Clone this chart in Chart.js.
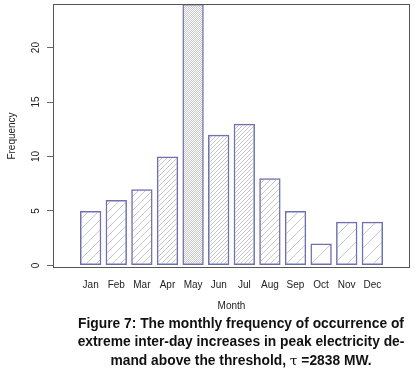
<!DOCTYPE html>
<html>
<head>
<meta charset="utf-8">
<script src="https://cdn.jsdelivr.net/npm/chart.js@4/dist/chart.umd.min.js"></script>
<style>
html,body{margin:0;padding:0;background:#fff;}
#wrap{position:relative;width:416px;height:371px;}
#c{position:absolute;left:0;top:0;}
#cap{position:absolute;left:66px;width:350px;top:315px;text-align:center;
 font-family:"Liberation Sans",Arial,sans-serif;font-weight:bold;font-size:13.8px;line-height:18px;color:#111;}
</style>
</head>
<body>
<div id="wrap">
<canvas id="c" width="416" height="371"></canvas>
<div id="cap">Figure 7: The monthly frequency of occurrence of<br>extreme inter-day increases in peak electricity de-<br>mand above the threshold, <span style="font-family:'DejaVu Serif',serif;font-weight:normal;">τ</span> =2838 MW.</div>
</div>
<script>
const months = ["Jan","Feb","Mar","Apr","May","Jun","Jul","Aug","Sep","Oct","Nov","Dec"];
const frequency = [5, 6, 7, 10, 24, 12, 13, 8, 5, 2, 4, 4];
const yTicks = [0, 5, 10, 15, 20];

function hatch(v) {
  const s = Math.max(2, Math.round(50 / v));
  const c = document.createElement('canvas');
  c.width = s; c.height = s;
  const g = c.getContext('2d');
  g.strokeStyle = 'rgba(140,140,140,0.6)';
  g.lineWidth = 0.8;
  g.beginPath();
  g.moveTo(-1, s + 1); g.lineTo(s + 1, -1);
  g.moveTo(-1, 1); g.lineTo(1, -1);
  g.moveTo(s - 1, s + 1); g.lineTo(s + 1, s - 1);
  g.stroke();
  return document.getElementById('c').getContext('2d').createPattern(c, 'repeat');
}

const framePlugin = {
  id: 'frame',
  afterDraw(chart) {
    const a = chart.chartArea, ctx = chart.ctx;
    ctx.save();
    ctx.strokeStyle = '#555';
    ctx.lineWidth = 1;
    ctx.strokeRect(a.left + 0.5, a.top + 0.5, a.right - a.left - 1, a.bottom - a.top - 1);
    ctx.restore();
  }
};

const font = {family: "'Liberation Sans', Arial, sans-serif", size: 10};

new Chart(document.getElementById('c'), {
  type: 'bar',
  data: {
    datasets: [{
      data: frequency.map((v, i) => ({x: i + 1, y: v})),
      backgroundColor: frequency.map(v => hatch(v)),
      borderColor: '#7070b0',
      borderWidth: 1.5,
      borderSkipped: false,
      barPercentage: 1 / 1.2,
      categoryPercentage: 1
    }]
  },
  options: {
    responsive: false,
    animation: false,
    layout: {padding: {top: 4, right: 6, left: 0, bottom: 58}},
    plugins: {legend: {display: false}, tooltip: {enabled: false}},
    scales: {
      x: {
        type: 'linear',
        min: 0.11, max: 12.89,
        afterBuildTicks: s => { s.ticks = months.map((m, i) => ({value: i + 1})); },
        afterFit: s => { s.height = 45; s.paddingLeft = 0; s.paddingRight = 0; },
        grid: {display: false, drawTicks: false},
        border: {display: false},
        ticks: {
          autoSkip: false, maxRotation: 0, padding: 11, color: '#222', font,
          callback: v => months[v - 1]
        },
        title: {display: true, text: 'Month', color: '#222', font, padding: {top: 0, bottom: 1}}
      },
      y: {
        min: -0.24, max: 24,
        afterBuildTicks: s => { s.ticks = yTicks.map(v => ({value: v})); },
        afterFit: s => { s.width = 53; s.paddingTop = 0; s.paddingBottom = 0; },
        grid: {drawOnChartArea: false, drawTicks: true, tickLength: 6, color: '#666'},
        border: {display: false},
        ticks: {minRotation: 90, maxRotation: 90, crossAlign: 'center', padding: 5, color: '#222', font},
        title: {display: true, text: 'Frequency', color: '#222', font, padding: {top: 6, bottom: 0}}
      }
    }
  },
  plugins: [framePlugin]
});
</script>
</body>
</html>
